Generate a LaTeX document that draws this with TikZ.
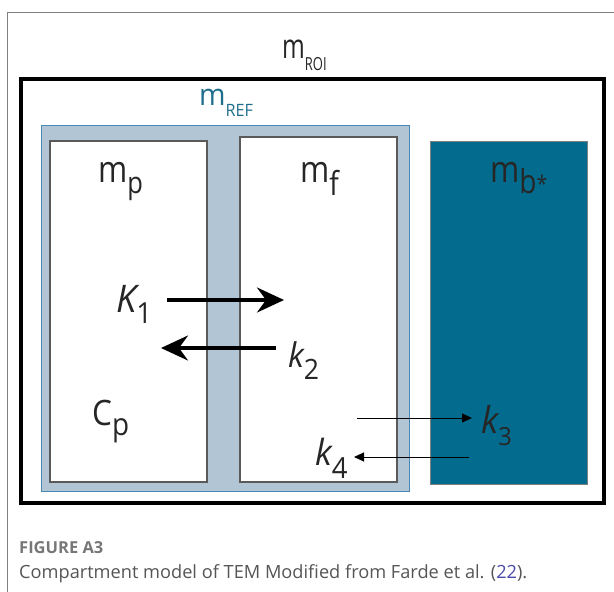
\documentclass[tikz,border=0pt]{standalone}
\usepackage{fontspec}
\setmainfont{Open Sans}
\usetikzlibrary{arrows.meta}
\definecolor{refc}{HTML}{B2C5D5}
\definecolor{refb}{HTML}{4A88B5}
\definecolor{tealbox}{HTML}{036B8E}
\definecolor{reftext}{HTML}{1F6E8C}
\definecolor{framec}{HTML}{808080}
\definecolor{boxb}{HTML}{5A5A5A}
\definecolor{captc}{HTML}{555555}
\definecolor{refnum}{HTML}{4A4AA8}
% \lbl{main}{sub}{main size}{sub size}{drop}{xscale}
\newcommand{\lbl}[6]{\scalebox{#6}[1]{{\fontsize{#3}{#3}\selectfont #1}\raisebox{-#5pt}{\fontsize{#4}{#4}\selectfont #2}}}
\newcommand{\klbl}[6]{\scalebox{#6}[1]{{\fontsize{#3}{#3}\selectfont\itshape #1}\raisebox{-#5pt}{\fontsize{#4}{#4}\selectfont #2}}}
\begin{document}
\begin{tikzpicture}[x=1pt,y=-1pt,
  box/.style={anchor=north west, inner sep=0pt, outer sep=0pt},
  lab/.style={anchor=base west, inner sep=0pt, text=black!85},
  thick arrow/.style={line width=3.5pt, -{Stealth[length=27pt,width=25pt,inset=9pt]}},
  thin arrow/.style={line width=1pt, -{Triangle[length=10pt,width=9pt]}}]
\useasboundingbox (0,0) rectangle (614,592);
\draw[framec, line width=1.3pt] (614,12.5) -- (7.5,12.5) -- (7.5,592);
% outer ROI box
\node[box, draw=black, line width=4pt, minimum width=583pt, minimum height=424pt] (roi) at (21,79) {};
% reference region
\node[box, draw=refb, fill=refc, line width=1pt, minimum width=368pt, minimum height=366pt] (ref) at (41,125) {};
% compartments
\node[box, draw=boxb, fill=white, line width=1.4pt, minimum width=157pt, minimum height=341pt] (mp) at (50,141) {};
\node[box, draw=boxb, fill=white, line width=1.4pt, minimum width=157pt, minimum height=345pt] (mf) at (240,137) {};
\node[box, draw=gray, fill=tealbox, line width=0.8pt, minimum width=157pt, minimum height=343pt] (mb) at (430,141) {};
% labels
\node[lab] (lroi) at (282,58) {\lbl{m}{ROI}{34}{18}{12}{0.72}};
\node[lab, text=reftext] (lref) at (199,105) {\lbl{m}{REF}{30}{17}{11}{0.95}};
\node[lab] (lmp) at (98,182) {\lbl{m}{p}{37}{30}{11}{0.85}};
\node[lab] (lmf) at (300,182) {\lbl{m}{f}{37}{33}{13}{0.85}};
\node[lab] (lmb) at (490,182) {\lbl{m}{b\raisebox{1pt}{\fontsize{23}{23}\selectfont *}}{37}{33}{11}{0.85}};
\node[lab] (lk1) at (116,312) {\klbl{K}{1}{38}{29}{11}{0.95}};
\node[lab] (lk2) at (288,367) {\klbl{k}{2}{34}{28}{12}{0.95}};
\node[lab] (lcp) at (92,425) {\lbl{C}{p}{35}{31}{10}{0.9}};
\node[lab] (lk3) at (481,433) {\klbl{k}{3}{37}{25}{12}{0.95}};
\node[lab] (lk4) at (315,465) {\klbl{k}{4}{36}{29}{13}{0.95}};
% arrows
\coordinate (a1s) at (167,300); \coordinate (a1e) at (284,300);
\coordinate (a2s) at (276,348); \coordinate (a2e) at (161,348);
\coordinate (a3s) at (357,418); \coordinate (a3e) at (472,418);
\coordinate (a4s) at (469,457); \coordinate (a4e) at (354,457);
\draw[thick arrow] (a1s) -- (a1e);
\draw[thick arrow] (a2s) -- (a2e);
\draw[thin arrow] (a3s) -- (a3e);
\draw[thin arrow] (a4s) -- (a4e);
% caption
\node[anchor=base west, inner sep=0pt, text=captc!80] (fig) at (19,553) {\fontsize{16.5}{16.5}\selectfont\bfseries FIGURE A3};
\node[anchor=base west, inner sep=0pt, text=captc] (cap) at (19,578) {\fontsize{18.2}{18.2}\selectfont Compartment model of TEM Modified from Farde et al. (\textcolor{refnum}{22}).};
\end{tikzpicture}
\end{document}
